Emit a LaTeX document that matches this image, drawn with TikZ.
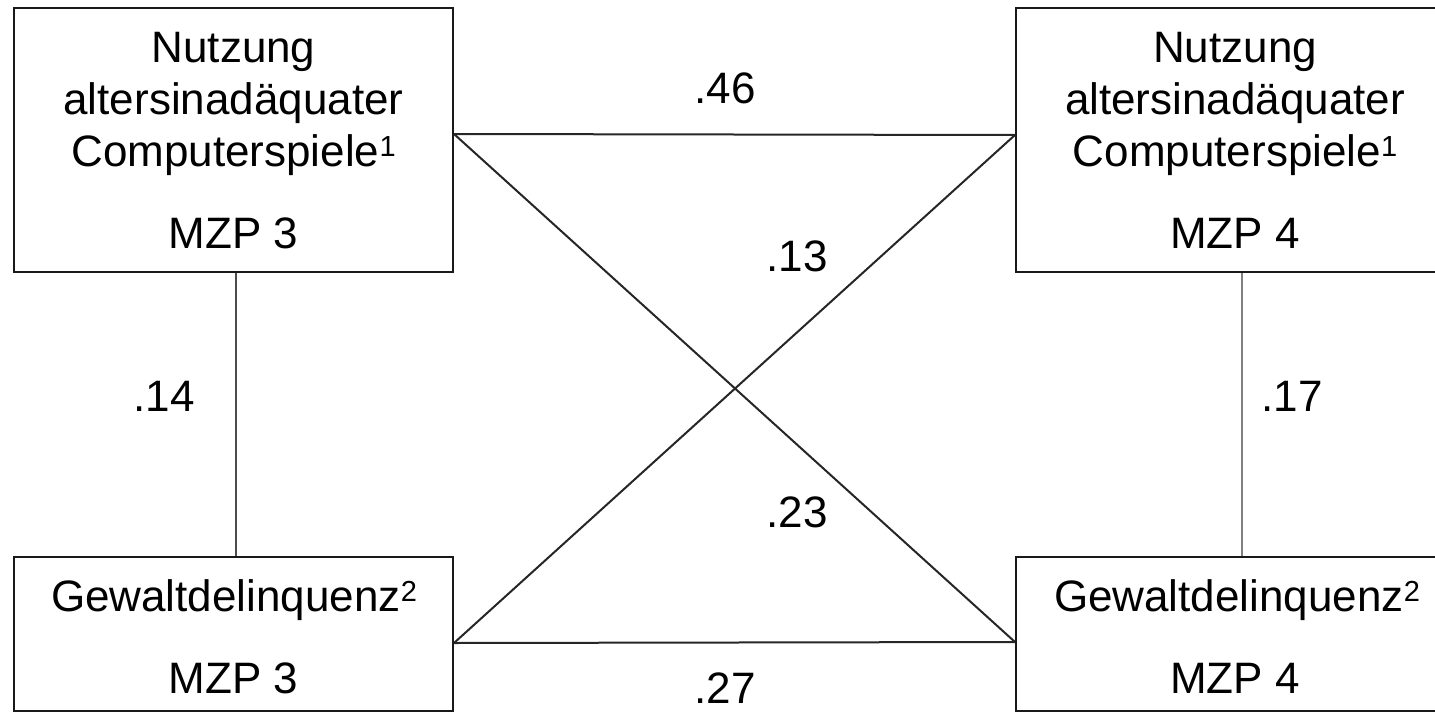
\documentclass[tikz,border=0pt]{standalone}
\usepackage{fontspec}
\setmainfont{Liberation Sans}
\newcommand\supnum[1]{\raisebox{10pt}{\fontsize{29}{30}\selectfont #1}}
\begin{document}
\begin{tikzpicture}[x=1pt,y=-1pt,
  box/.style={rectangle, draw=black!90, line width=2pt, minimum width=439pt, inner sep=0pt},
  txt/.style={anchor=base, inner sep=0pt, font=\fontsize{44}{52}\selectfont},
  conn/.style={line width=2pt, draw=black!85},
  vconnA/.style={line width=2pt, draw=black!70},
  vconnB/.style={line width=2pt, draw=black!50}]
\useasboundingbox (0,0) rectangle (1435,712);
\clip (0,0) rectangle (1435,712);
% boxes
\node[box, minimum height=264pt] (TL) at (233.5,140) {};
\node[box, minimum height=264pt] (TR) at (1235.5,140) {};
\node[box, minimum height=154pt] (BL) at (233.5,634) {};
\node[box, minimum height=154pt] (BR) at (1235.5,634) {};
% box texts
\node[txt] (tl1) at (233.5,62) {Nutzung};
\node[txt] (tl2) at (233.5,114) {altersinadäquater};
\node[txt] (tl3) at (233.5,166) {Computerspiele\supnum{1}};
\node[txt] (tl4) at (233.5,248) {MZP 3};
\node[txt] (tr1) at (1235,62) {Nutzung};
\node[txt] (tr2) at (1235,114) {altersinadäquater};
\node[txt] (tr3) at (1235,166) {Computerspiele\supnum{1}};
\node[txt] (tr4) at (1235,248) {MZP 4};
\node[txt] (bl1) at (234,611) {Gewaltdelinquenz\supnum{2}};
\node[txt] (bl2) at (233.5,693) {MZP 3};
\node[txt] (br1) at (1237,611) {Gewaltdelinquenz\supnum{2}};
\node[txt] (br2) at (1235,693) {MZP 4};
% connectors
\draw[conn] ([yshift=6pt]TL.east) -- ([yshift=5pt]TR.west);
\draw[conn] ([yshift=6pt]TL.east) -- ([yshift=-8pt]BR.west);
\draw[conn] ([yshift=-9pt]BL.east) -- ([yshift=5pt]TR.west);
\draw[conn] ([yshift=-9pt]BL.east) -- ([yshift=-8pt]BR.west);
\draw[vconnA] ([xshift=2.5pt]TL.south) -- ([xshift=2.5pt]BL.north);
\draw[vconnB] ([xshift=6.5pt]TR.south) -- ([xshift=6.5pt]BR.north);
% coefficients
\node[txt] (c46) at (725,103) {.46};
\node[txt] (c13) at (797,271) {.13};
\node[txt] (c14) at (164,411) {.14};
\node[txt] (c17) at (1292,411) {.17};
\node[txt] (c23) at (797,527) {.23};
\node[txt] (c27) at (725,703) {.27};
\end{tikzpicture}
\end{document}
